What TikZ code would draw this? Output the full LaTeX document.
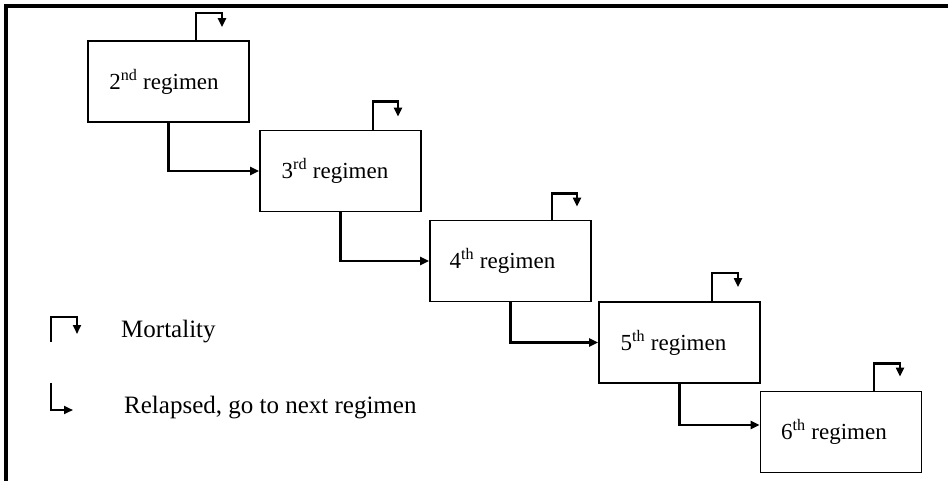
\documentclass[tikz,border=0pt]{standalone}
\usepackage{fontspec}
\setmainfont{Liberation Serif}
\usetikzlibrary{arrows.meta}
\begin{document}
\begin{tikzpicture}[x=1pt,y=-1pt,
  regbox/.style={draw, line width=1.9pt, minimum width=161pt, minimum height=81pt, inner sep=0pt,
    font=\fontsize{23}{27}\selectfont},
  conn/.style={line width=2.2pt, -{Triangle[length=9pt,width=8pt]}},
  legtext/.style={anchor=west, inner sep=0pt, font=\fontsize{25}{29}\selectfont}]
\useasboundingbox (0,0) rectangle (948,481);
% outer frame (clipped)
\draw[line width=3.6pt] (6,481) -- (6,6) -- (948,6);
% boxes
\node[regbox] (b1) at (168.5,81.5) {2\textsuperscript{nd} regimen\hspace*{9pt}};
\node[regbox] (b2) at (340.5,171) {3\textsuperscript{rd} regimen\hspace*{11pt}};
\node[regbox] (b3) at (510.5,261) {4\textsuperscript{th} regimen\hspace*{16pt}};
\node[regbox] (b4) at (679.5,342.5) {5\textsuperscript{th} regimen\hspace*{12pt}};
\node[regbox] (b5) at (841,432) {6\textsuperscript{th} regimen\hspace*{14pt}};
% relapse connectors
\draw[conn] (b1.south) |- (b2.west);
\draw[conn] (b2.south) |- (b3.west);
\draw[conn] (b3.south) |- (b4.west);
\draw[conn] (b4.south) |- ([yshift=7pt]b5.west);
% mortality loops
\draw[conn] ([xshift=27.5pt]b1.north) |- ++(26,-27) -- ++(0,14);
\draw[conn] ([xshift=32.5pt]b2.north) |- ++(25,-28) -- ++(0,15);
\draw[conn] ([xshift=41.5pt]b3.north) |- ++(25,-26) -- ++(0,13);
\draw[conn] ([xshift=32.5pt]b4.north) |- ++(26,-28) -- ++(0,14);
\draw[conn] ([xshift=33pt]b5.north) |- ++(26,-27) -- ++(0,13);
% legend
\coordinate (m0) at (51,342);
\draw[conn] (m0) |- ++(26,-25) -- ++(0,17);
\node[legtext] (lm) at (121,332) {Mortality};
\coordinate (r0) at (51,383);
\draw[conn] (r0) |- ++(22,27);
\node[legtext] (lr) at (124,408) {Relapsed, go to next regimen};
\end{tikzpicture}
\end{document}
